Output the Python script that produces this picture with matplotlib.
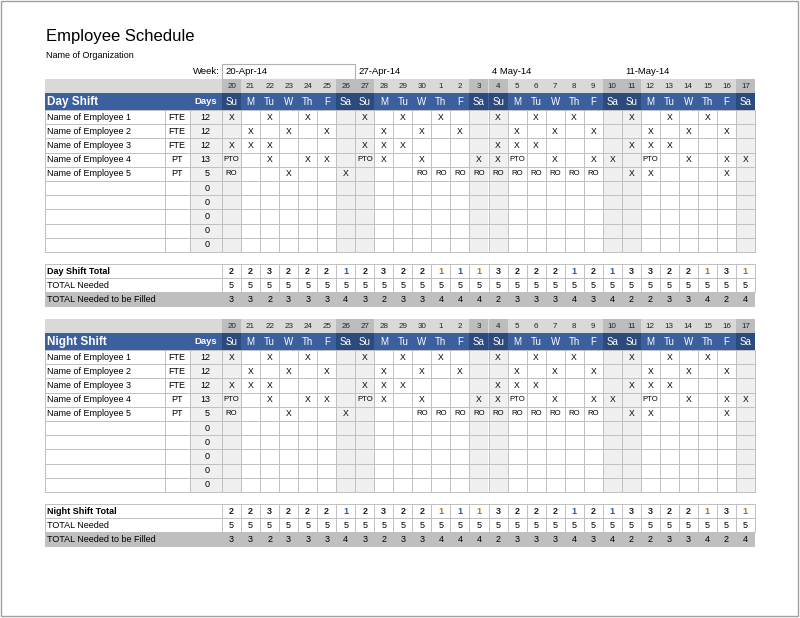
import matplotlib
matplotlib.use("Agg")
import matplotlib.pyplot as plt
from matplotlib.patches import Rectangle

title = "Employee Schedule"
org = "Name of Organization"
week_labels = ["20-Apr-14", "27-Apr-14", "4 May-14", "11-May-14"]
dates = [20,21,22,23,24,25,26,27,28,29,30,1,2,3,4,5,6,7,8,9,10,11,12,13,14,15,16,17]
weekdays = ["Su","M","Tu","W","Th","F","Sa"]*4
employees = ["Name of Employee 1","Name of Employee 2","Name of Employee 3","Name of Employee 4","Name of Employee 5"]
emp_type = ["FTE","FTE","FTE","PT","PT"]
days_count = [12,12,12,13,5,0,0,0,0,0]
sched = [
 "X  X  X  X  X  X  X  X  X  X  X  X  X  X  X  X  X  X  X  X  X  X  X  X  X  X  X  X",
]
# per-employee schedules, one entry per date column
emp1 = ["X","","X","","X","","","X","","X","","X","","","X","","X","","X","","","X","","X","","X","",""]
emp2 = ["","X","","X","","X","","","X","","X","","X","","","X","","X","","X","","","X","","X","","X",""]
emp3 = ["X","X","X","","","","","X","X","X","","","","","X","X","X","","","","","X","X","X","","","",""]
emp4 = ["PTO","","X","","X","X","","PTO","X","","X","","","X","X","PTO","","X","","X","X","","PTO","","X","","X","X"]
emp5 = ["RO","","","X","","","X","","","","RO","RO","RO","RO","RO","RO","RO","RO","RO","RO","","X","X","","","","X",""]
shift_total = [2,2,3,2,2,2,1,2,3,2,2,1,1,1,3,2,2,2,1,2,1,3,3,2,2,1,3,1]
needed = [5]*28
to_fill = [3,3,2,3,3,3,4,3,2,3,3,4,4,4,2,3,3,3,4,3,4,2,2,3,3,4,2,4]
sections = ["Day Shift", "Night Shift"]

fig = plt.figure(figsize=(8, 6.18), dpi=100)
ax = fig.add_axes([0, 0, 1, 1])
ax.set_xlim(0, 800); ax.set_ylim(618, 0); ax.axis("off")

ax.add_patch(Rectangle((1, 1), 797, 615, fill=False, ec="#a0a0a0", lw=1))
ax.text(46, 37, title, fontsize=12, va="center", family="Liberation Sans")
ax.text(46, 56, org, fontsize=6.5, va="center", family="Liberation Sans")
ax.text(220, 71, "Week:", fontsize=6.8, va="center", ha="right", family="Liberation Sans")
ax.add_patch(Rectangle((222, 64), 133, 15, fill=False, ec="#b0b0b0", lw=0.8))
for i, w in enumerate(week_labels):
    ax.text(225 + i * 133.3, 71, w, fontsize=6.8, va="center", family="Liberation Sans")

X0, CW, L0 = 222, (755 - 222) / 28, 45
RH = 14.2
blue, dblue = "#3c5f9e", "#2d4a7d"
grid = "#c0c0c0"
fs = 6.2
FONT = "Liberation Sans"

def weekend(i):
    return weekdays[i] in ("Sa", "Su")

schedules = [emp1, emp2, emp3, emp4, emp5]
for s, name in enumerate(sections):
    off = s * 240
    # date row
    ax.add_patch(Rectangle((L0, 79 + off), 755 - L0, 14, fc="#d9d9d9", ec="none"))
    ax.add_patch(Rectangle((L0, 93 + off), 755 - L0, 17, fc=blue, ec="none"))
    for i, d in enumerate(dates):
        x = X0 + i * CW
        if weekend(i):
            ax.add_patch(Rectangle((x, 79 + off), CW, 14, fc="#bdbdbd", ec="none"))
            ax.add_patch(Rectangle((x, 93 + off), CW, 17, fc=dblue, ec="none"))
        ax.text(x + CW / 2, 86 + off, str(d), fontsize=5.8, ha="center", va="center", family=FONT, color="#222")
        ax.text(x + CW / 2, 102 + off, weekdays[i], fontsize=7, ha="center", va="center", family=FONT, color="white")
    ax.text(47, 102 + off, name, fontsize=8.5, fontweight="bold", color="white", va="center", family=FONT)
    ax.text(206, 102 + off, "Days", fontsize=6.8, fontweight="bold", color="white", va="center", ha="center", family=FONT)
    # body
    top = 110 + off
    nrows = len(days_count)
    ax.add_patch(Rectangle((190, top), 32, nrows * RH, fc="#f0f0f0", ec="none"))
    for i in range(28):
        if weekend(i):
            ax.add_patch(Rectangle((X0 + i * CW, top), CW, nrows * RH, fc="#f0f0f0", ec="none"))
    for r in range(nrows + 1):
        ax.plot([L0, 755], [top + r * RH] * 2, color=grid, lw=0.7)
    for xv in [L0, 165, 190, 222] + [X0 + i * CW for i in range(1, 29)]:
        ax.plot([xv, xv], [top, top + nrows * RH], color=grid, lw=0.7)
    for r in range(nrows):
        yc = top + r * RH + RH / 2
        if r < len(employees):
            ax.text(47, yc, employees[r], fontsize=fs + 0.3, va="center", family=FONT)
            ax.text(177, yc, emp_type[r], fontsize=fs + 0.3, va="center", ha="center", family=FONT)
            for i, v in enumerate(schedules[r]):
                if v:
                    ax.text(X0 + i * CW + CW / 2, yc, v, fontsize=5.6 if len(v) > 1 else fs,
                            va="center", ha="center", family=FONT)
        ax.text(210, yc, str(days_count[r]), fontsize=fs + 0.3, va="center", ha="right", family=FONT)
    # totals
    t0 = 264 + off
    ax.add_patch(Rectangle((L0, t0 + 2 * RH), 755 - L0, RH, fc="#bfbfbf", ec="none"))
    for r in range(3):
        ax.plot([L0, 755], [t0 + r * RH] * 2, color=grid, lw=0.7)
    for xv in [L0] + [X0 + i * CW for i in range(0, 29)]:
        ax.plot([xv, xv], [t0, t0 + 2 * RH], color=grid, lw=0.7)
    labels = [name + " Total", "TOTAL Needed", "TOTAL Needed to be Filled"]
    for r, lab in enumerate(labels):
        ax.text(47, t0 + r * RH + RH / 2, lab, fontsize=fs + 0.3, va="center", family=FONT,
                fontweight="bold" if r == 0 else "normal")
    for i in range(28):
        xc = X0 + i * CW + CW / 2
        v = shift_total[i]
        col = "#222"
        if v == 1:
            col = "#1f5fae" if weekdays[i] in ("Sa", "F", "Th") and i % 2 == 0 else "#c07000"
        ax.text(xc, t0 + RH / 2, str(v), fontsize=fs + 0.3, ha="center", va="center", family=FONT,
                fontweight="bold", color=col)
        ax.text(xc, t0 + RH * 1.5, str(needed[i]), fontsize=fs + 0.3, ha="center", va="center", family=FONT)
        ax.text(xc, t0 + RH * 2.5, str(to_fill[i]), fontsize=fs + 0.3, ha="center", va="center", family=FONT)

fig.savefig("out.png", dpi=100)
